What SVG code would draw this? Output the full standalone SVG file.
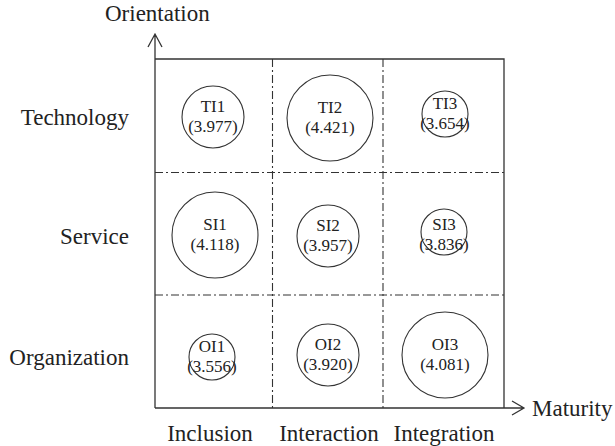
<svg xmlns="http://www.w3.org/2000/svg" width="615" height="446" viewBox="0 0 615 446" font-family="Liberation Serif, Times New Roman, DejaVu Serif, serif">
<style>
text{font-family:'Liberation Serif','Times New Roman','DejaVu Serif',serif;fill:#222}
.lbl{font-size:23px}
.row{font-size:23px;text-anchor:end}
.col{font-size:23px;text-anchor:middle}
.n{font-size:17px;text-anchor:middle}
.ax{stroke:#333;stroke-width:1.3;fill:none}
.dd{stroke:#333;stroke-width:1.1;fill:none;stroke-dasharray:8,3,2,3}
.c{stroke:#333;stroke-width:1.1;fill:none}
</style>
<g id="axes">
<path class="ax" d="M155,408 V34 M148,47 L155,34 L162,47"/>
<path class="ax" d="M155,408 H524 M512,401 L524,408 L512,415"/>
<path class="ax" d="M155,59 H504 V408"/>
<path class="dd" d="M272.5,59 V408 M383,59 V408 M155,172.5 H504 M155,295 H504"/>
<text class="lbl" x="105" y="21">Orientation</text>
<text class="lbl" x="532" y="416">Maturity</text>
</g>
<g id="rows">
<text class="row" x="129" y="125">Technology</text>
<text class="row" x="129" y="244">Service</text>
<text class="row" x="129" y="365">Organization</text>
</g>
<g id="cols">
<text class="col" x="210" y="441">Inclusion</text>
<text class="col" x="329" y="441">Interaction</text>
<text class="col" x="444" y="441">Integration</text>
</g>
<g id="TI1"><circle class="c" cx="213" cy="117" r="31"/><text class="n" x="213" y="112">TI1</text><text class="n" x="213" y="132">(3.977)</text></g>
<g id="TI2"><circle class="c" cx="330" cy="118" r="43"/><text class="n" x="330" y="113">TI2</text><text class="n" x="330" y="133">(4.421)</text></g>
<g id="TI3"><circle class="c" cx="445" cy="114" r="23"/><text class="n" x="445" y="109">TI3</text><text class="n" x="445" y="129">(3.654)</text></g>
<g id="SI1"><circle class="c" cx="215" cy="235" r="43"/><text class="n" x="215" y="230">SI1</text><text class="n" x="215" y="250">(4.118)</text></g>
<g id="SI2"><circle class="c" cx="328" cy="236" r="31"/><text class="n" x="328" y="231">SI2</text><text class="n" x="328" y="251">(3.957)</text></g>
<g id="SI3"><circle class="c" cx="444" cy="232" r="23"/><text class="n" x="444" y="230">SI3</text><text class="n" x="444" y="250">(3.836)</text></g>
<g id="OI1"><circle class="c" cx="212" cy="357" r="23"/><text class="n" x="212" y="352">OI1</text><text class="n" x="212" y="372">(3.556)</text></g>
<g id="OI2"><circle class="c" cx="328" cy="355" r="31"/><text class="n" x="328" y="350">OI2</text><text class="n" x="328" y="370">(3.920)</text></g>
<g id="OI3"><circle class="c" cx="445" cy="355" r="43"/><text class="n" x="445" y="350">OI3</text><text class="n" x="445" y="370">(4.081)</text></g>
</svg>
